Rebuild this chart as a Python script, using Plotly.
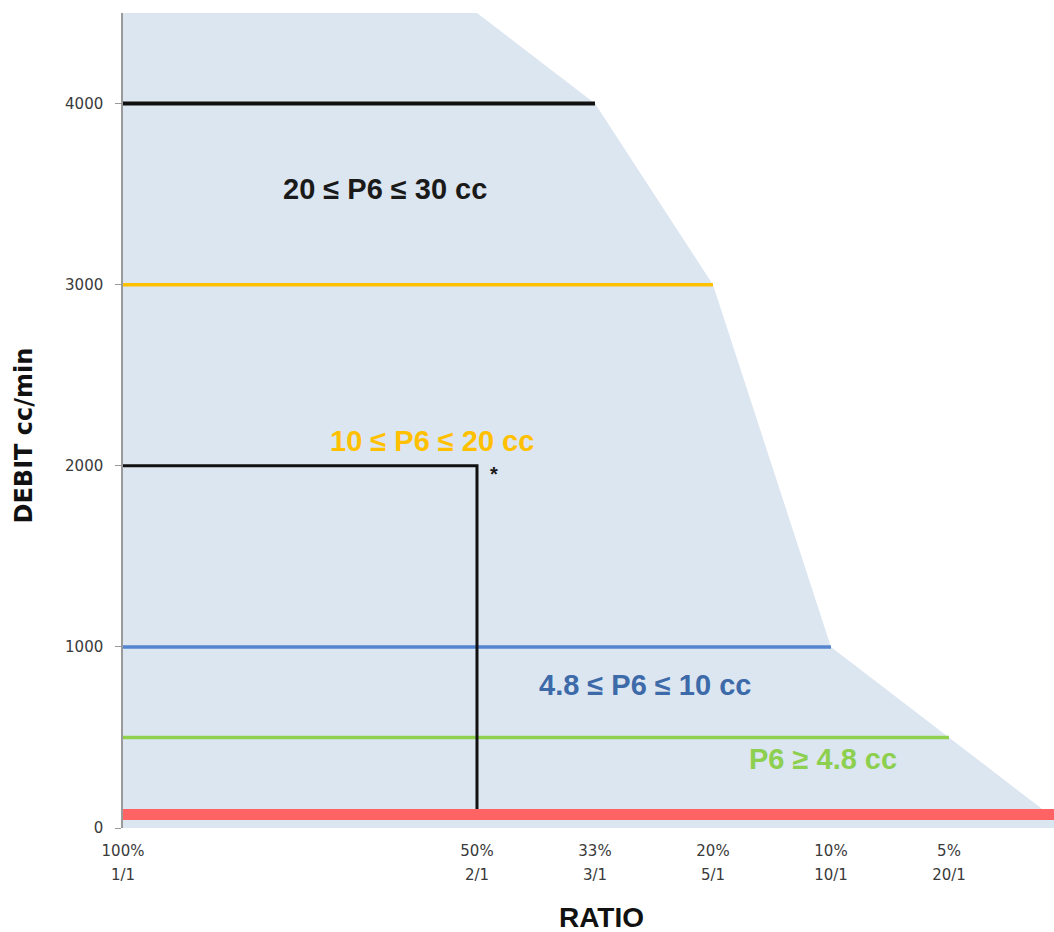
import plotly.graph_objects as go

# category positions along the ratio axis (1 and 2 are unlabeled slots)
cat_pos = [0, 1, 2, 3, 4, 5, 6, 7, 8]
pct_labels = ["100%", "", "", "50%", "33%", "20%", "10%", "5%"]
ratio_labels = ["1/1", "", "", "2/1", "3/1", "5/1", "10/1", "20/1"]

# upper envelope of the shaded zone (cc/min)
envelope = [4500, 4500, 4500, 4500, 4000, 3000, 1000, 500, 0]

# limit lines: level and last category reached
lim_black = (4000, 4)
lim_orange = (3000, 5)
lim_blue = (1000, 6)
lim_green = (500, 7)
lim_red = (75, 8)

# L-shaped marker at 2/1 - 2000 cc/min
l_x = [0, 3, 3]
l_y = [2000, 2000, 90]

fill_col = "#DCE6F1"
fig = go.Figure()

fig.add_trace(go.Scatter(x=cat_pos, y=envelope, mode="lines", fill="tozeroy",
                         fillcolor=fill_col, line=dict(width=0, color=fill_col),
                         hoverinfo="skip", showlegend=False))

def hline(level, last, color, width, axis="x"):
    fig.add_trace(go.Scatter(x=[0, last], y=[level, level], mode="lines",
                             line=dict(color=color, width=width),
                             xaxis=axis, showlegend=False))

hline(lim_red[0], lim_red[1], "#FF6363", 11, axis="x2")
hline(lim_green[0], lim_green[1], "#8FD14F", 3.5)
hline(lim_blue[0], lim_blue[1], "#5585CF", 3.5)
hline(lim_orange[0], lim_orange[1], "#FFC000", 3.5)
hline(lim_black[0], lim_black[1], "#111111", 4)

fig.add_trace(go.Scatter(x=l_x, y=l_y, mode="lines",
                         line=dict(color="#111111", width=3), showlegend=False))

lab_font = "Liberation Sans, Arial, sans-serif"
labels = [
    (2.22, 3526, "20 ≤ P6 ≤ 30 cc", "#1A1A1A"),
    (2.62, 2135, "10 ≤ P6 ≤ 20 cc", "#FFC000"),
    (4.42, 789, "4.8 ≤ P6 ≤ 10 cc", "#3D6AA8"),
    (5.93, 381, "P6 ≥ 4.8 cc", "#8DCF4F"),
]
for lx, ly, txt, col in labels:
    fig.add_annotation(x=lx, y=ly, xref="x", yref="y", text="<b>%s</b>" % txt,
                       showarrow=False, xanchor="center", yanchor="middle",
                       font=dict(family=lab_font, size=29, color=col))
fig.add_annotation(x=3.14, y=1953, xref="x", yref="y", text="<b>*</b>",
                   showarrow=False, font=dict(family=lab_font, size=20, color="#1A1A1A"))

fig.add_annotation(x=-0.106, y=0.482, xref="paper", yref="paper", text="<b>DEBIT cc/min</b>",
                   textangle=-90, showarrow=False, xanchor="center", yanchor="middle",
                   font=dict(family="DejaVu Sans", size=24, color="#111111"))
fig.add_annotation(x=0.514, y=-0.11, xref="paper", yref="paper", text="<b>RATIO</b>",
                   showarrow=False, xanchor="center", yanchor="middle",
                   font=dict(family=lab_font, size=28, color="#111111"))

tick_font = dict(family="DejaVu Sans", size=15, color="#3A3A3A")
fig.update_layout(
    width=1054, height=932,
    margin=dict(l=123, r=0, t=13, b=104),
    paper_bgcolor="white", plot_bgcolor="white",
    xaxis=dict(range=[0, 7.89], tickvals=cat_pos[:8], ticktext=pct_labels,
               showgrid=False, zeroline=False, showline=False, ticks="",
               ticklabelstandoff=12, tickfont=tick_font),
    xaxis2=dict(range=[0, 7.89], tickvals=cat_pos[:8], ticktext=ratio_labels,
                overlaying="x", anchor="y", side="bottom", matches="x",
                showgrid=False, zeroline=False, showline=False, ticks="",
                ticklabelstandoff=36, tickfont=tick_font),
    yaxis=dict(range=[0, 4500], tickvals=[0, 1000, 2000, 3000, 4000],
               showgrid=False, zeroline=False, showline=True, linecolor="#9A9A9A",
               linewidth=1.5, ticks="outside", ticklen=6, tickcolor="#9A9A9A",
               ticklabelstandoff=9, tickfont=tick_font),
)

# drop the default page margin so the figure fills the window exactly
fig.write_html("out.html", config={"displayModeBar": False},
               post_script="document.body.style.margin='0';document.body.style.overflow='hidden';")
